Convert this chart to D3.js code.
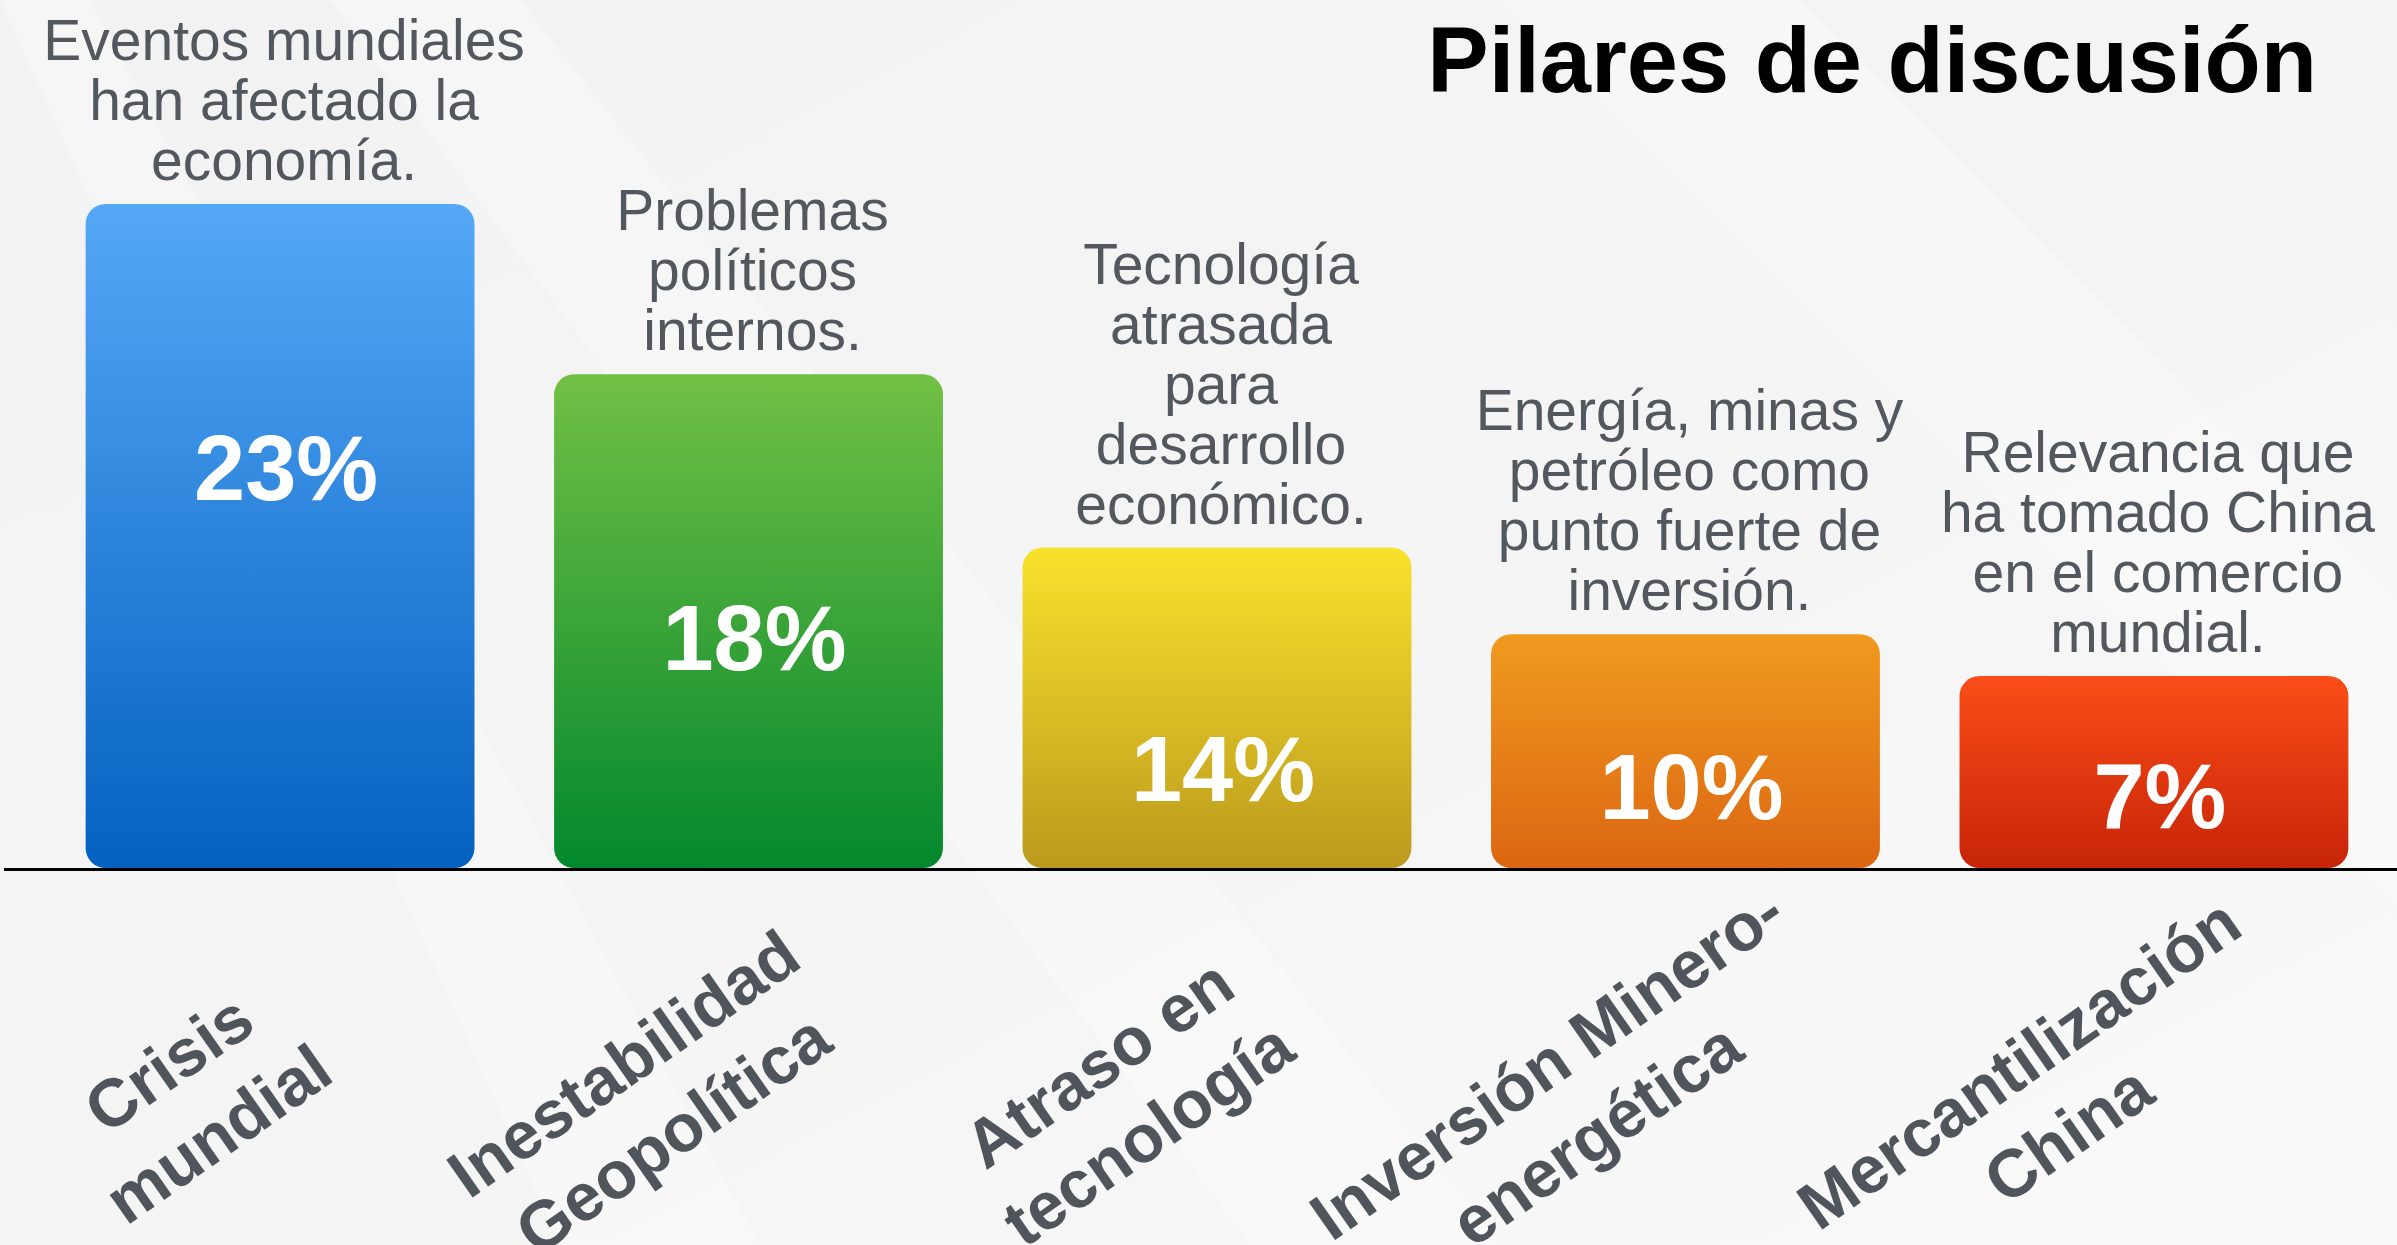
<!DOCTYPE html>
<html lang="es">
<head>
<meta charset="UTF-8">
<title>Pilares de discusión</title>
<style>
  html, body { margin: 0; padding: 0; background: #f4f4f4; overflow: hidden; }
  svg { display: block; }
  .title { font: bold 92px "Liberation Sans", Arial, Helvetica, sans-serif; fill: #000; }
  .note { font: 57px "Liberation Sans", Arial, Helvetica, sans-serif; fill: #53575e; }
  .pct { font: bold 92px "Liberation Sans", Arial, Helvetica, sans-serif; fill: #fff; }
  .cat { font: bold 67px "Liberation Sans", Arial, Helvetica, sans-serif; fill: #50555b; }
</style>
</head>
<body>
<div id="chart"></div>
<script src="https://d3js.org/d3.v7.min.js"></script>
<script>
// categories (x axis), two lines each
const categories = [
  ["Crisis", "mundial"],
  ["Inestabilidad", "Geopolítica"],
  ["Atraso en", "tecnología"],
  ["Inversión Minero-", "energética"],
  ["Mercantilización", "China"]
];
// percentages written on the bars
const values = [23, 18, 14, 10, 7];
// level each bar is actually drawn to in the picture (same % units, not proportional to the labels)
const barLevels = [23, 17.1, 11.1, 8.1, 6.65];
// comments above each bar
const notes = [
  ["Eventos mundiales", "han afectado la", "economía."],
  ["Problemas", "políticos", "internos."],
  ["Tecnología", "atrasada", "para", "desarrollo", "económico."],
  ["Energía, minas y", "petróleo como", "punto fuerte de", "inversión."],
  ["Relevancia que", "ha tomado China", "en el comercio", "mundial."]
];
const topColors = ["#55a8f7", "#71c044", "#f8e22c", "#f09a1f", "#fa4d18"];
const bottomColors = ["#0461bf", "#03882d", "#bc991d", "#dc6612", "#c72408"];

const W = 2397, H = 1245;
const baseY = 868;

const svg = d3.select("#chart").append("svg")
  .attr("width", W).attr("height", H);

const defs = svg.append("defs");

// background
const bg = defs.append("linearGradient").attr("id", "bg")
  .attr("x1", 0).attr("y1", 0).attr("x2", 1).attr("y2", 1);
bg.append("stop").attr("offset", 0).attr("stop-color", "#f2f2f2");
bg.append("stop").attr("offset", 0.6).attr("stop-color", "#f5f5f5");
bg.append("stop").attr("offset", 1).attr("stop-color", "#fafafa");
svg.append("rect").attr("width", W).attr("height", H).attr("fill", "url(#bg)");

const streaks = [
  [[0, 0], [90, 0], [760, 1245], [560, 1245]],
  [[330, 0], [520, 0], [1500, 1245], [1250, 1245]],
  [[1500, 0], [1800, 0], [2397, 600], [2397, 900]]
];
svg.append("g").selectAll("path").data(streaks).join("path")
  .attr("d", d => "M" + d.join("L") + "Z")
  .attr("fill", "#ffffff").attr("opacity", 0.3);

// gradients for the bars
categories.forEach((c, i) => {
  const g = defs.append("linearGradient").attr("id", "bar" + i)
    .attr("x1", 0).attr("y1", 0).attr("x2", 0).attr("y2", 1);
  g.append("stop").attr("offset", 0).attr("stop-color", topColors[i]);
  g.append("stop").attr("offset", 1).attr("stop-color", bottomColors[i]);
});

const x = d3.scaleBand()
  .domain(d3.range(categories.length))
  .range([6, 2428])
  .paddingInner(0.17)
  .paddingOuter(0.17);

const y = d3.scaleLinear()
  .domain([0, 23])
  .range([baseY, 204]);

// bars
svg.append("g").selectAll("rect").data(barLevels).join("rect")
  .attr("x", (d, i) => x(i))
  .attr("y", d => y(d))
  .attr("width", x.bandwidth())
  .attr("height", d => baseY - y(d))
  .attr("rx", 20).attr("ry", 20)
  .attr("fill", (d, i) => `url(#bar${i})`);

// baseline
svg.append("line")
  .attr("x1", 4).attr("x2", W)
  .attr("y1", baseY + 1.5).attr("y2", baseY + 1.5)
  .attr("stroke", "#000").attr("stroke-width", 3);

// percent labels inside the bars
svg.append("g").selectAll("text").data(values).join("text")
  .attr("class", "pct")
  .attr("text-anchor", "middle")
  .attr("x", (d, i) => x(i) + x.bandwidth() / 2 + 6)
  .attr("y", (d, i) => Math.min(y(barLevels[i]) + 296, y(barLevels[i] * 0.21)))
  .text(d => d + "%");

// notes above the bars
const lineH = 60;
const noteG = svg.append("g").selectAll("text").data(notes).join("text")
  .attr("class", "note")
  .attr("text-anchor", "middle")
  .attr("transform", (d, i) => {
    const lastBase = y(barLevels[i]) - 24;
    return `translate(${x(i) + x.bandwidth() / 2 + 4},${lastBase - (d.length - 1) * lineH})`;
  });
noteG.selectAll("tspan").data(d => d).join("tspan")
  .attr("x", 0)
  .attr("y", (d, j) => j * lineH)
  .text(d => d);

// rotated category labels
const catG = svg.append("g").selectAll("g").data(categories).join("g");
catG.each(function (lines, i) {
  const g = d3.select(this);
  const t = g.append("text").attr("class", "cat").attr("text-anchor", "middle");
  t.selectAll("tspan").data(lines).join("tspan")
    .attr("x", 0)
    .attr("y", (d, j) => j === 0 ? -19 : 67)
    .text(d => d);
  const widest = d3.max(t.selectAll("tspan").nodes(), n => n.getComputedTextLength());
  const cx = x(i) + x.bandwidth() / 2 - (64 + 0.09 * widest);
  g.attr("transform", `translate(${cx},1098) rotate(-35)`);
});

// title
svg.append("text")
  .attr("class", "title")
  .attr("text-anchor", "end")
  .attr("x", 2317).attr("y", 92)
  .text("Pilares de discusión");
</script>
</body>
</html>
